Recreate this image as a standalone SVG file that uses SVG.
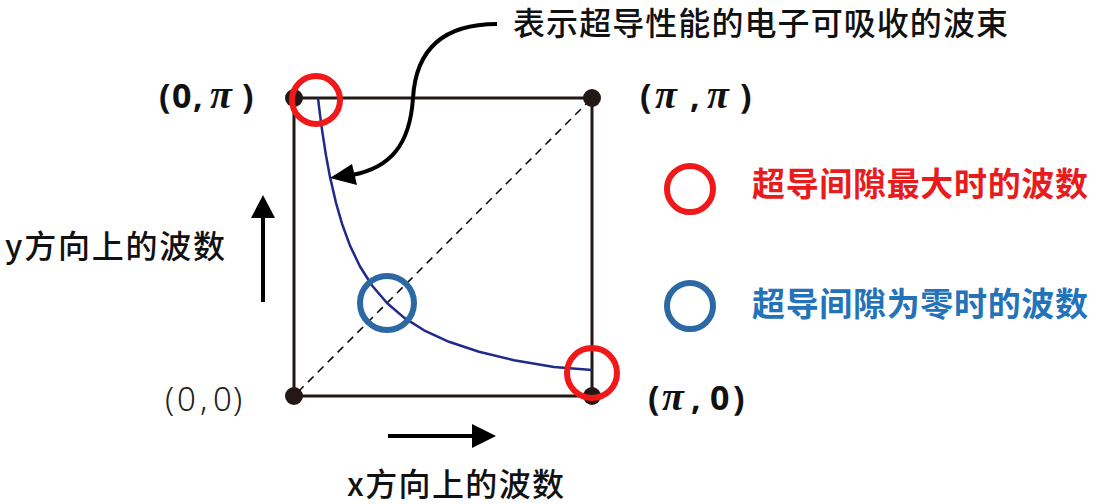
<svg xmlns="http://www.w3.org/2000/svg" width="1095" height="504" viewBox="0 0 1095 504">
<defs>
<style>
.cjk{font-family:"Noto Sans CJK SC","Noto Sans",sans-serif;}
.lbl{font-size:32px;fill:#111;font-weight:500;}
.coordB{font-family:"Noto Sans","Noto Sans CJK SC",sans-serif;font-size:34px;font-weight:bold;fill:#111;}
.coordR{font-family:"Noto Sans","Noto Sans CJK SC",sans-serif;font-size:33px;font-weight:300;fill:#222;}
.pi{font-family:"Liberation Serif",serif;font-style:italic;font-weight:bold;font-size:40px;}
.edge{stroke:#231815;stroke-width:3;fill:none;}
.dot{fill:#231815;}
.ring{fill:none;stroke-width:6;}
.red{stroke:#f01818;}
.blue{stroke:#2c68a4;}
</style>
</defs>
<rect width="1095" height="504" fill="#fff"/>

<g id="square">
<rect x="294" y="98" width="298" height="298" class="edge"/>
<line x1="298" y1="392" x2="588" y2="102" stroke="#000" stroke-width="1.5" stroke-dasharray="8,6"/>
</g>

<g id="fermi-curve">
<path d="M318,98 L320,114.7 L322,129.7 L326,155.5 L330,176.9 L336,202.9 L342,223.7 L350,245.6 L360,266.5 L372,285.5 L387,303 L404,317.6 L424,330.3 L449,341.8 L479,351.8 L514,360.2 L554,367.1 L592,370" fill="none" stroke="#1f2a8a" stroke-width="2.5" stroke-linejoin="round"/>
</g>

<g id="corner-00"><circle cx="294" cy="396" r="9" class="dot"/><text y="411" class="coordR"><tspan x="165">(</tspan><tspan x="177">0</tspan><tspan x="200">,</tspan><tspan x="213">0</tspan><tspan x="233">)</tspan></text></g>
<g id="corner-0pi"><circle cx="294" cy="98" r="9" class="dot"/><text y="108" class="coordB"><tspan x="159">(</tspan><tspan x="172">0</tspan><tspan x="193">,</tspan><tspan x="210" class="pi">π</tspan><tspan x="242">)</tspan></text></g>
<g id="corner-pipi"><circle cx="592" cy="98" r="9" class="dot"/><text y="108" class="coordB"><tspan x="640">(</tspan><tspan x="655" class="pi">π</tspan><tspan x="690">,</tspan><tspan x="707" class="pi">π</tspan><tspan x="740">)</tspan></text></g>
<g id="corner-pi0"><circle cx="592" cy="396" r="9" class="dot"/><text y="410" class="coordB"><tspan x="648">(</tspan><tspan x="662" class="pi">π</tspan><tspan x="691">,</tspan><tspan x="710">0</tspan><tspan x="733">)</tspan></text></g>

<g id="max-gap-rings">
<circle cx="316" cy="100" r="24" class="ring red"/>
<circle cx="592" cy="373" r="25" class="ring red"/>
</g>
<g id="zero-gap-ring">
<circle cx="387" cy="303" r="27" class="ring blue"/>
</g>

<g id="legend-max">
<circle cx="690" cy="189" r="23" class="ring red"/>
<text x="752" y="196" class="cjk" font-size="33" font-weight="bold" fill="#e81c1c" textLength="336">超导间隙最大时的波数</text>
</g>
<g id="legend-zero">
<circle cx="690" cy="306" r="23" class="ring blue"/>
<text x="752" y="316" class="cjk" font-size="33" font-weight="bold" fill="#2472b8" textLength="336">超导间隙为零时的波数</text>
</g>

<g id="title">
<text x="513" y="35" class="cjk lbl" textLength="495">表示超导性能的电子可吸收的波束</text>
</g>
<g id="y-label"><text x="5" y="258" class="cjk lbl" textLength="220">y方向上的波数</text></g>
<g id="x-label"><text x="347" y="496" class="cjk lbl" font-size="31" textLength="217">x方向上的波数</text></g>

<g id="connectors">
<path d="M497,24 C445,24 416,48 413,98 C410,145 390,168 352,175" fill="none" stroke="#000" stroke-width="4"/>
<path d="M330,178 L352,164 L357,185 z" fill="#000"/>
<line x1="263" y1="302" x2="263" y2="214" stroke="#000" stroke-width="4"/>
<path d="M263,195 L275,218 L251,218 z" fill="#000"/>
<line x1="388" y1="436" x2="474" y2="436" stroke="#000" stroke-width="4"/>
<path d="M496,436 L472,424 L472,448 z" fill="#000"/>
</g>
</svg>
